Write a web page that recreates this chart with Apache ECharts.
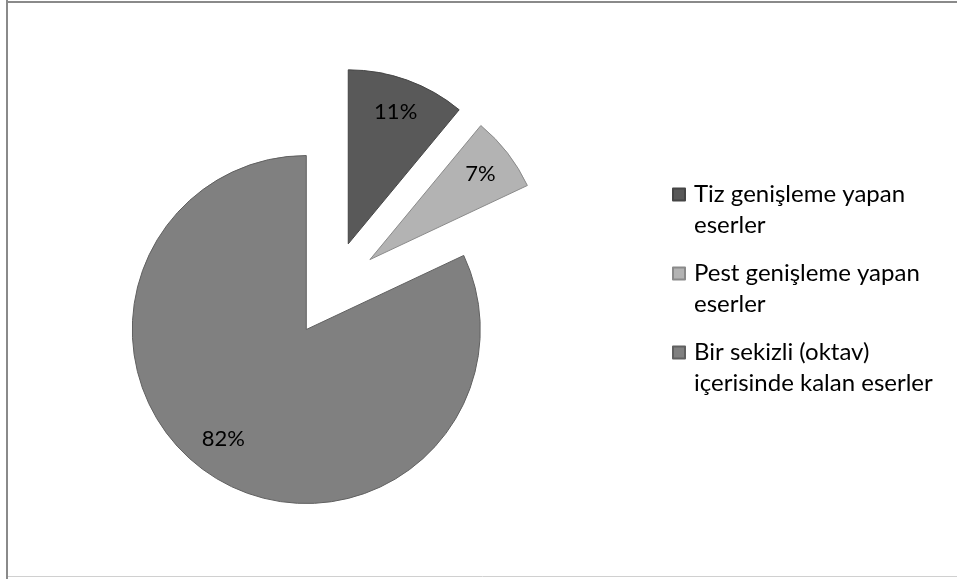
<!DOCTYPE html>
<html>
<head>
<meta charset="utf-8">
<script src="https://cdn.jsdelivr.net/npm/echarts@6/dist/echarts.min.js"></script>
<style>
  html, body { margin: 0; padding: 0; background: #fff; }
  #chart { width: 957px; height: 579px; }
</style>
</head>
<body>
<div id="chart"></div>
<script>
// dilimler
const categories = [
  'Tiz genişleme yapan eserler',
  'Pest genişleme yapan eserler',
  'Bir sekizli (oktav) içerisinde kalan eserler'
];
const values = [11, 7, 82];
// lejantta iki satıra bölünmüş metinler
const legendLines = [
  'Tiz genişleme yapan\neserler',
  'Pest genişleme yapan\neserler',
  'Bir sekizli (oktav)\niçerisinde kalan eserler'
];
const colors = ['#595959', '#b3b3b3', '#808080'];
const borders = ['#454545', '#8a8a8a', '#606060'];

const FONT = 'Lato';
const CENTER = [332, 289];
const OFFSET = 48;

const pieData = categories.map((name, i) => ({
  name,
  value: values[i],
  selected: true,
  itemStyle: { color: colors[i], borderColor: borders[i], borderWidth: 1 }
}));

const labelData = categories.map((name, i) => ({
  name,
  value: values[i],
  selected: true
}));

const chart = echarts.init(document.getElementById('chart'), null, { renderer: 'canvas' });

chart.setOption({
  animation: false,
  color: colors,
  legend: {
    orient: 'vertical',
    left: 667,
    top: 143,
    padding: 5,
    itemWidth: 12,
    itemHeight: 12,
    itemGap: -14,
    icon: 'rect',
    selectedMode: false,
    data: categories,
    // ilk satır simgeyle aynı hizada dursun diye başa boş satır
    formatter: name => '\n' + legendLines[categories.indexOf(name)],
    textStyle: {
      fontFamily: FONT,
      fontSize: 24,
      color: '#000',
      lineHeight: 31,
      padding: [0, 0, 0, 4]
    }
  },
  graphic: [
    // çerçeve
    { type: 'line', shape: { x1: 7, y1: 0, x2: 7, y2: 579 }, style: { stroke: '#8a8a8a', lineWidth: 2 } },
    { type: 'line', shape: { x1: 6, y1: 2, x2: 957, y2: 2 }, style: { stroke: '#8a8a8a', lineWidth: 2 } },
    { type: 'line', shape: { x1: 8, y1: 576.5, x2: 957, y2: 576.5 }, style: { stroke: '#d0d0d0', lineWidth: 1 } }
  ],
  series: [
    {
      name: 'dilimler',
      type: 'pie',
      center: CENTER,
      radius: [0, 174],
      startAngle: 90,
      clockwise: true,
      selectedMode: 'multiple',
      selectedOffset: OFFSET,
      emphasis: { disabled: true },
      label: { show: false },
      labelLine: { show: false },
      data: pieData
    },
    {
      name: 'etiketler',
      type: 'pie',
      center: CENTER,
      radius: [100, 174],
      startAngle: 90,
      clockwise: true,
      selectedMode: 'multiple',
      selectedOffset: OFFSET,
      silent: true,
      emphasis: { disabled: true },
      itemStyle: { color: 'transparent', borderWidth: 0 },
      label: {
        show: true,
        position: 'inside',
        formatter: '{d}%',
        fontFamily: FONT,
        fontSize: 22,
        color: '#000'
      },
      // 82% etiketi Excel'de biraz daha içeride duruyor
      labelLayout: params => (params.dataIndex === 2 ? { dx: -8, dy: -9 } : {}),
      labelLine: { show: false },
      data: labelData
    }
  ]
});
</script>
</body>
</html>
